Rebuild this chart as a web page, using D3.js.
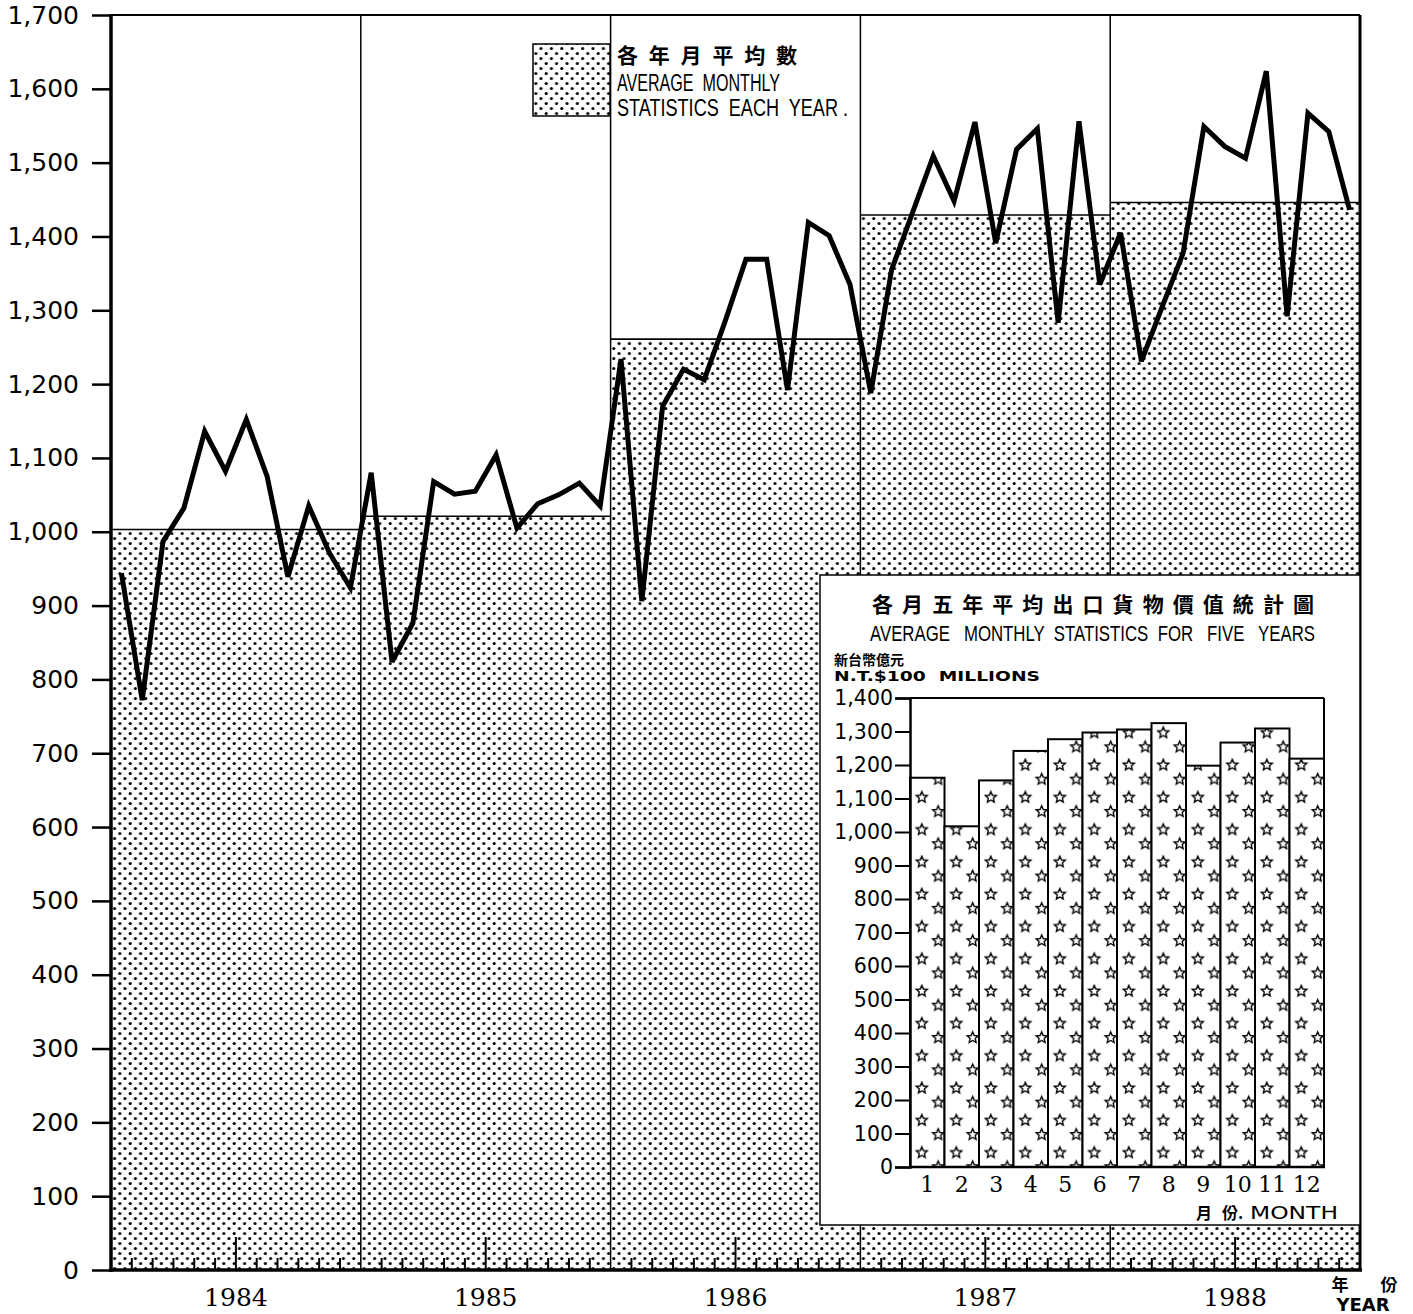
<!DOCTYPE html>
<html><head><meta charset="utf-8">
<script src="https://cdn.jsdelivr.net/npm/d3@7"></script>
<style>body{margin:0;background:#fff} text{white-space:pre}</style>
</head><body>
<svg id="c" width="1413" height="1314" xmlns="http://www.w3.org/2000/svg"></svg>
<script>
// ---------------- DATA ----------------
const years = [1984, 1985, 1986, 1987, 1988];
const exports1984 = [944, 772, 987, 1032, 1136, 1082, 1152, 1075, 939, 1035, 971, 924];
const exports1985 = [1080, 824, 876, 1068, 1051, 1055, 1104, 1005, 1038, 1050, 1066, 1035];
const exports1986 = [1234, 906, 1170, 1220, 1206, 1285, 1369, 1369, 1192, 1419, 1401, 1335];
const exports1987 = [1188, 1355, 1432, 1509, 1448, 1555, 1391, 1518, 1546, 1283, 1556, 1335];
const exports1988 = [1405, 1231, 1305, 1377, 1549, 1522, 1506, 1624, 1292, 1567, 1542, 1436];
const yearAverages = [1003, 1021, 1261, 1429, 1446];
const monthNumbers = [1, 2, 3, 4, 5, 6, 7, 8, 9, 10, 11, 12];
const fiveYearMonthAverages = [1162, 1017, 1154, 1242, 1277, 1297, 1306, 1325, 1198, 1267, 1309, 1219];
const mainTicks = [0,100,200,300,400,500,600,700,800,900,1000,1100,1200,1300,1400,1500,1600,1700];
const insetTicks = [0,100,200,300,400,500,600,700,800,900,1000,1100,1200,1300,1400];
const legendTitle = "各年月平均數";
const legendLine1 = "AVERAGE  MONTHLY";
const legendLine2 = "STATISTICS  EACH  YEAR .";
const insetTitle = "各月五年平均出口貨物價值統計圖";
const insetSubtitle = "AVERAGE   MONTHLY  STATISTICS  FOR   FIVE   YEARS";
const unitZh = "新台幣億元";
const unitEn = "N.T.$100  MILLIONS";
const monthAxisZh1 = "月", monthAxisZh2 = "份.", monthAxisEn = "MONTH";
const yearAxisZh1 = "年", yearAxisZh2 = "份", yearAxisEn = "YEAR";

const allMonths = [].concat(exports1984, exports1985, exports1986, exports1987, exports1988);

// ---------------- SETUP ----------------
const svg = d3.select("#c");
const defs = svg.append("defs");
const sans = "'DejaVu Sans', sans-serif";
const serif = "'DejaVu Serif', serif";
const narrow = "'Liberation Sans Narrow', 'Liberation Sans', sans-serif";
const cjk = "'Noto Sans CJK TC', 'Noto Sans CJK SC', sans-serif";

// dot stipple (staggered grid)
const PW = 10.4, PH = 10;
const dp = defs.append("pattern").attr("id", "dots").attr("patternUnits", "userSpaceOnUse")
  .attr("width", PW).attr("height", PH).attr("x", 112).attr("y", 16);
dp.append("rect").attr("width", PW).attr("height", PH).attr("fill", "#fff");
dp.append("circle").attr("cx", PW / 4).attr("cy", PH / 4).attr("r", 1.55).attr("fill", "#000");
dp.append("circle").attr("cx", PW * 3 / 4).attr("cy", PH * 3 / 4).attr("r", 1.55).attr("fill", "#000");

function starPath(cx, cy, R, r) {
  const pts = [];
  for (let i = 0; i < 10; i++) {
    const a = -Math.PI / 2 + i * Math.PI / 5;
    const rad = i % 2 === 0 ? R : r;
    pts.push([cx + rad * Math.cos(a), cy + rad * Math.sin(a)]);
  }
  return "M" + pts.map(p => p[0].toFixed(2) + "," + p[1].toFixed(2)).join("L") + "Z";
}

// ---------------- MAIN SCALES ----------------
const xYear = d3.scaleBand().domain(years).range([111, 1360]).padding(0);
const xMonth = d3.scaleLinear().domain([0, 60]).range([111, 1360]);
const y = d3.scaleLinear().domain([0, 1700]).range([1270, 15]);

// average bars
const avgData = years.map((yr, i) => ({ yr, v: yearAverages[i] }));
svg.append("g").selectAll("rect").data(avgData).join("rect")
  .attr("x", d => xYear(d.yr)).attr("width", xYear.bandwidth())
  .attr("y", d => y(d.v)).attr("height", d => y(0) - y(d.v))
  .attr("fill", "url(#dots)");
svg.append("g").selectAll("line").data(avgData).join("line")
  .attr("x1", d => xYear(d.yr)).attr("x2", d => xYear(d.yr) + xYear.bandwidth())
  .attr("y1", d => y(d.v)).attr("y2", d => y(d.v))
  .attr("stroke", "#000").attr("stroke-width", 1.6);

// year dividers
svg.append("g").selectAll("line").data(years.slice(1)).join("line")
  .attr("x1", d => xYear(d)).attr("x2", d => xYear(d))
  .attr("y1", y(1700)).attr("y2", y(0))
  .attr("stroke", "#000").attr("stroke-width", 1.5);

// bottom month ticks
const tickIdx = d3.range(1, 60).filter(k => k % 12 !== 0);
svg.append("g").selectAll("line").data(tickIdx).join("line")
  .attr("x1", k => xMonth(k)).attr("x2", k => xMonth(k))
  .attr("y1", y(0)).attr("y2", k => y(0) - (k % 12 === 6 ? 33 : 12))
  .attr("stroke", "#000").attr("stroke-width", 2);

// legend
const lg = svg.append("g");
lg.append("rect").attr("x", 533).attr("y", 44).attr("width", 77).attr("height", 72)
  .attr("fill", "url(#dots)").attr("stroke", "#000").attr("stroke-width", 1.5);
lg.append("text").attr("x", 617).attr("y", 63).text(legendTitle)
  .attr("font-family", cjk).attr("font-weight", 700).attr("font-size", 21)
  .attr("textLength", 180).attr("lengthAdjust", "spacing");
lg.append("text").attr("x", 617).attr("y", 91).text(legendLine1)
  .attr("font-family", narrow).attr("font-size", 19).attr("transform", "translate(617,91) scale(1,1.22) translate(-617,-91)")
  .attr("textLength", 163).attr("lengthAdjust", "spacingAndGlyphs");
lg.append("text").attr("x", 617).attr("y", 116).text(legendLine2)
  .attr("font-family", narrow).attr("font-size", 19).attr("transform", "translate(617,116) scale(1,1.22) translate(-617,-116)")
  .attr("textLength", 231).attr("lengthAdjust", "spacingAndGlyphs");

// line
const line = d3.line().x((d, i) => xMonth(i + 0.5)).y(d => y(d));
svg.append("path").datum(allMonths).attr("d", line)
  .attr("fill", "none").attr("stroke", "#000").attr("stroke-width", 5)
  .attr("stroke-linejoin", "miter").attr("stroke-miterlimit", 3);

// y axis
const yAxis = svg.append("g").attr("transform", "translate(111,0)")
  .call(d3.axisLeft(y).tickValues(mainTicks).tickSize(19).tickPadding(13).tickFormat(d3.format(",")));
yAxis.select(".domain").remove();
yAxis.selectAll(".tick line").attr("stroke-width", 2.5);
yAxis.selectAll(".tick text").attr("font-family", sans).attr("font-size", 25).attr("fill", "#000");

// frame
svg.append("line").attr("x1", 111).attr("x2", 1360).attr("y1", 15).attr("y2", 15).attr("stroke", "#000").attr("stroke-width", 2);
svg.append("line").attr("x1", 1360).attr("x2", 1360).attr("y1", 15).attr("y2", 1270).attr("stroke", "#000").attr("stroke-width", 3);
svg.append("line").attr("x1", 111).attr("x2", 111).attr("y1", 14).attr("y2", 1272).attr("stroke", "#000").attr("stroke-width", 3.5);
svg.append("line").attr("x1", 109).attr("x2", 1362).attr("y1", 1270).attr("y2", 1270).attr("stroke", "#000").attr("stroke-width", 3.5);

// year labels
svg.append("g").selectAll("text").data(years).join("text")
  .attr("x", d => xYear(d) + xYear.bandwidth() / 2).attr("y", 1306)
  .attr("text-anchor", "middle").attr("font-family", serif).attr("font-size", 25)
  .text(d => d);
svg.append("text").attr("x", 1340).attr("y", 1291).attr("text-anchor", "middle")
  .attr("font-family", cjk).attr("font-weight", 700).attr("font-size", 17).text(yearAxisZh1);
svg.append("text").attr("x", 1389).attr("y", 1291).attr("text-anchor", "middle")
  .attr("font-family", cjk).attr("font-weight", 700).attr("font-size", 17).text(yearAxisZh2);
svg.append("text").attr("x", 1363).attr("y", 1311).attr("text-anchor", "middle")
  .attr("font-family", sans).attr("font-weight", 700).attr("font-size", 18).text(yearAxisEn);

// ---------------- INSET ----------------
const ins = svg.append("g");
ins.append("rect").attr("x", 820).attr("y", 575).attr("width", 540).attr("height", 650)
  .attr("fill", "#fff").attr("stroke", "#000").attr("stroke-width", 1.5);

ins.append("text").attr("x", 872).attr("y", 612).text(insetTitle)
  .attr("font-family", cjk).attr("font-weight", 700).attr("font-size", 21)
  .attr("textLength", 442).attr("lengthAdjust", "spacing");
ins.append("text").attr("x", 870).attr("y", 641).text(insetSubtitle)
  .attr("font-family", narrow).attr("font-size", 19).attr("transform", "translate(870,641) scale(1,1.2) translate(-870,-641)")
  .attr("textLength", 445).attr("lengthAdjust", "spacingAndGlyphs");
ins.append("text").attr("x", 834).attr("y", 665).text(unitZh)
  .attr("font-family", cjk).attr("font-weight", 700).attr("font-size", 14);
ins.append("text").attr("x", 834).attr("y", 681).text(unitEn)
  .attr("font-family", sans).attr("font-weight", 700).attr("font-size", 14)
  .attr("textLength", 206).attr("lengthAdjust", "spacingAndGlyphs");

const xI = d3.scaleBand().domain(monthNumbers).range([910, 1324]).padding(0);
const yI = d3.scaleLinear().domain([0, 1400]).range([1167, 698]);
const bw = xI.bandwidth();

// star pattern
const sp = defs.append("pattern").attr("id", "stars").attr("patternUnits", "userSpaceOnUse")
  .attr("width", bw).attr("height", 32.3).attr("x", 910).attr("y", 1143.7);
sp.append("rect").attr("width", bw).attr("height", 32.3).attr("fill", "#fff");
sp.append("path").attr("d", starPath(11.8, 9, 5.8, 2.7)).attr("fill", "#fff").attr("stroke", "#000").attr("stroke-width", 1.4);
sp.append("path").attr("d", starPath(28.2, 23.2, 5.8, 2.7)).attr("fill", "#fff").attr("stroke", "#000").attr("stroke-width", 1.4);

const barData = monthNumbers.map((m, i) => ({ m, v: fiveYearMonthAverages[i] }));
ins.append("g").selectAll("rect").data(barData).join("rect")
  .attr("x", d => xI(d.m)).attr("width", bw)
  .attr("y", d => yI(d.v)).attr("height", d => yI(0) - yI(d.v))
  .attr("fill", "url(#stars)").attr("stroke", "#000").attr("stroke-width", 2);

// inset frame (top and right)
ins.append("line").attr("x1", 910).attr("x2", 1324).attr("y1", yI(1400)).attr("y2", yI(1400)).attr("stroke", "#000").attr("stroke-width", 2);
ins.append("line").attr("x1", 1324).attr("x2", 1324).attr("y1", yI(1400)).attr("y2", yI(0)).attr("stroke", "#000").attr("stroke-width", 2);

const yIAxis = ins.append("g").attr("transform", "translate(910,0)")
  .call(d3.axisLeft(yI).tickValues(insetTicks).tickSize(15).tickPadding(2).tickFormat(d3.format(",")));
yIAxis.select(".domain").attr("stroke-width", 2.5);
yIAxis.selectAll(".tick line").attr("stroke-width", 2);
yIAxis.selectAll(".tick text").attr("font-family", sans).attr("font-size", 20.5).attr("fill", "#000");
ins.append("line").attr("x1", 909).attr("x2", 1325).attr("y1", yI(0)).attr("y2", yI(0)).attr("stroke", "#000").attr("stroke-width", 2.5);

ins.append("g").selectAll("text").data(monthNumbers).join("text")
  .attr("x", d => xI(d) + bw / 2).attr("y", 1192)
  .attr("text-anchor", "middle").attr("font-family", serif).attr("font-size", 22)
  .text(d => d);
ins.append("text").attr("x", 1196).attr("y", 1219).text(monthAxisZh1)
  .attr("font-family", cjk).attr("font-weight", 700).attr("font-size", 16);
ins.append("text").attr("x", 1222).attr("y", 1219).text(monthAxisZh2)
  .attr("font-family", cjk).attr("font-weight", 700).attr("font-size", 16);
ins.append("text").attr("x", 1250).attr("y", 1219).text(monthAxisEn)
  .attr("font-family", sans).attr("font-size", 17)
  .attr("textLength", 88).attr("lengthAdjust", "spacingAndGlyphs");
</script>
</body></html>
